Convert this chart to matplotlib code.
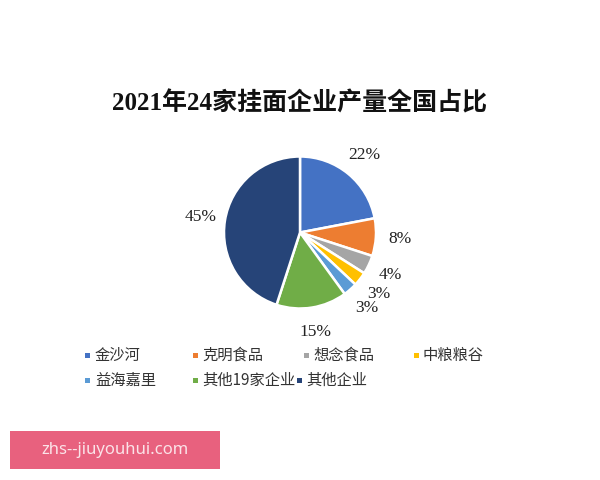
import matplotlib
matplotlib.use("Agg")
import matplotlib.pyplot as plt
from matplotlib.patches import Rectangle

plt.rcParams['font.family'] = ['Noto Sans CJK SC', 'DejaVu Sans']

title = "2021年24家挂面企业产量全国占比"
companies = ["金沙河", "克明食品", "想念食品", "中粮粮谷", "益海嘉里", "其他19家企业", "其他企业"]
shares = [22, 8, 4, 3, 3, 15, 45]
colors = ["#4472C4", "#ED7D31", "#A5A5A5", "#FFC000", "#5B9BD5", "#70AD47", "#264478"]
watermark = "zhs--jiuyouhui.com"

W, H = 600, 480
fig = plt.figure(figsize=(6, 4.8), dpi=100)
fig.patch.set_facecolor("white")

cx, cy, r = 300, 232.5, 76
ax = fig.add_axes([(cx - r) / W, (H - cy - r) / H, 2 * r / W, 2 * r / H])
wedges, texts, autotexts = ax.pie(
    shares, colors=colors, startangle=90, counterclock=False,
    autopct=lambda p: f"{p:.0f}%", pctdistance=1.32,
    wedgeprops=dict(edgecolor="white", linewidth=1.8),
)
for t in autotexts:
    t.set_fontfamily(['Liberation Serif', 'DejaVu Serif'])
    t.set_fontsize(12.5)
    t.set_color("#222222")
ax.set_xlim(-1, 1)
ax.set_ylim(-1, 1)
ax.set_aspect('equal')
ax.axis('off')

fig.text(cx / W, 1 - 103 / H, title, ha='center', va='center',
         fontsize=18, fontweight='bold',
         family=['Liberation Serif', 'Noto Sans CJK SC'], color="#111111")

# legend (manual layout, row-major)
pos = [(88, 355), (195, 355), (306, 355), (416, 355),
       (88, 380), (195, 380), (299, 380)]
for (x, y), name, w in zip(pos, companies, wedges):
    s = 5
    fig.add_artist(Rectangle(((x - s / 2) / W, (H - y - s / 2) / H), s / W, s / H,
                             transform=fig.transFigure, facecolor=w.get_facecolor(),
                             edgecolor='none'))
    fig.text((x + 7) / W, 1 - y / H, name, ha='left', va='center',
             fontsize=11, color="#333333",
             family=['Noto Sans CJK SC', 'Liberation Serif'])

# watermark box
fig.add_artist(Rectangle((10 / W, (H - 469) / H), 210 / W, 38 / H,
                         transform=fig.transFigure, facecolor="#E8617E",
                         edgecolor='none'))
fig.text(115 / W, 1 - 450 / H, watermark, ha='center', va='center',
         fontsize=12, color="#FBE3E8", family=['Noto Sans', 'DejaVu Sans'])

fig.savefig("out.png", dpi=100)
